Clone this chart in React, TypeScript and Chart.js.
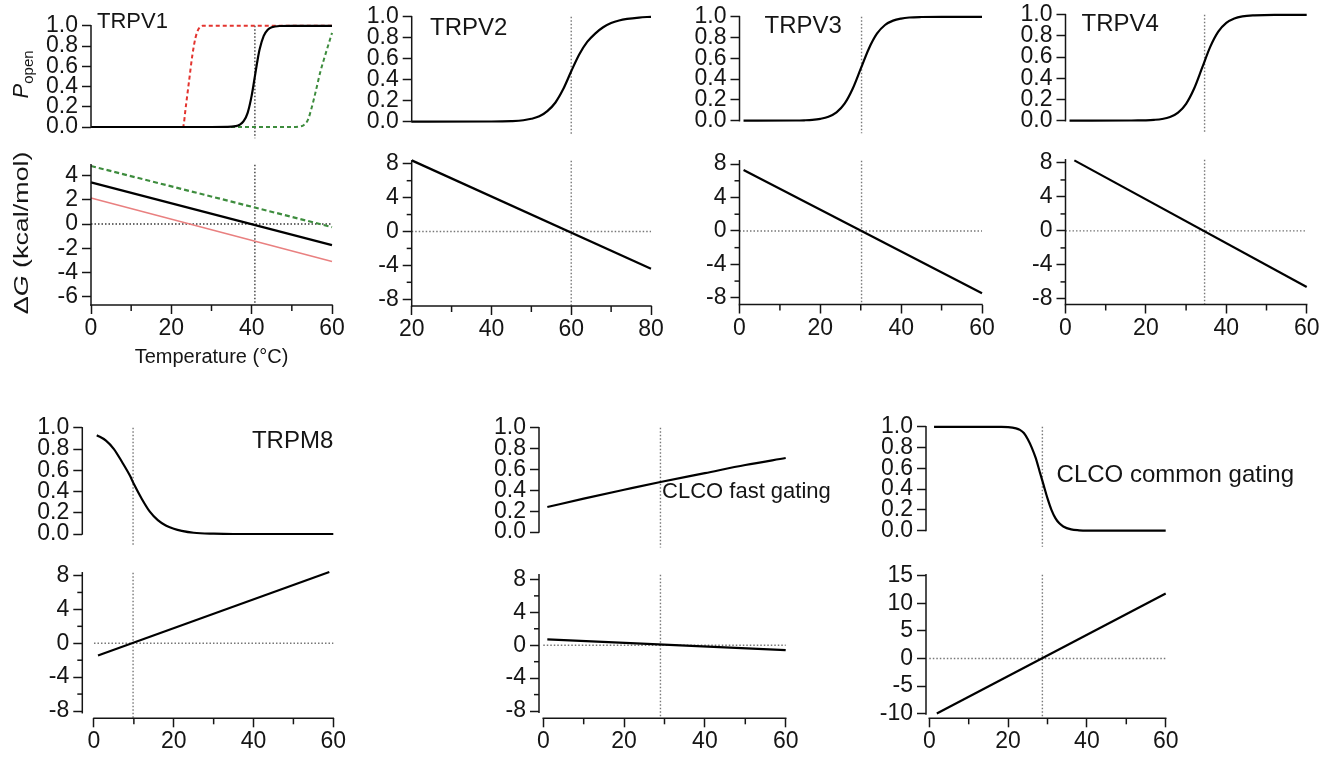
import React, { useEffect, useRef } from 'react';
import { Chart, registerables } from 'chart.js';

Chart.register(...registerables);

const FONT = '"Liberation Sans", Arial, Helvetica, sans-serif';
const INK = '#151515';
const RED = '#e3342f';
const PINK = '#e98080';
const GREEN = '#3d8c3d';

// ---------------- data ----------------
const PANEL_NAMES = ['TRPV1', 'TRPV2', 'TRPV3', 'TRPV4', 'TRPM8', 'CLCO fast gating', 'CLCO common gating'];
const PANEL_TM = [40.8, 60, 30.2, 34.6, 9.8, 29, 28.7];

const P_TICKS = [0, 0.2, 0.4, 0.6, 0.8, 1.0];
const T_TICKS_0_60 = [0, 20, 40, 60];
const T_MINOR_0_60 = [10, 30, 50];
const T_TICKS_20_80 = [20, 40, 60, 80];
const T_MINOR_20_80 = [30, 50, 70];
const DG_TICKS_TRPV1 = [-6, -4, -2, 0, 2, 4];
const DG_TICKS_8 = [-8, -4, 0, 4, 8];
const DG_MINOR_8 = [-6, -2, 2, 6];
const DG_TICKS_CLCO = [-10, -5, 0, 5, 10, 15];

// TRPV1
const TRPV1_T_BLACK = [0, 30, 35, 36, 37, 38, 39, 40, 40.8, 41.5, 42, 43, 44, 45, 47, 50, 60];
const TRPV1_P_BLACK = [0, 0, 0.003, 0.008, 0.022, 0.057, 0.14, 0.31, 0.5, 0.67, 0.77, 0.9, 0.96, 0.985, 0.998, 1, 1];
const TRPV1_T_RED = [0, 22.9, 23.6, 24.4, 25.2, 26.0, 26.8, 27.8, 30, 60];
const TRPV1_P_RED = [0, 0, 0.2, 0.45, 0.7, 0.88, 0.97, 1.0, 1, 1];
const TRPV1_T_GREEN = [0, 51, 52, 53, 54, 55, 56, 57, 58, 59, 60];
const TRPV1_P_GREEN = [0, 0, 0.005, 0.02, 0.07, 0.2, 0.36, 0.53, 0.67, 0.8, 0.93];
const TRPV1_DG_T = [0, 60];
const TRPV1_DG_BLACK = [3.45, -1.74];
const TRPV1_DG_RED = [2.15, -3.1];
const TRPV1_DG_GREEN = [4.8, -0.25];

// TRPV2
const TRPV2_T = [20, 40, 45, 48, 50, 52, 54, 56, 58, 60, 62, 64, 66, 68, 70, 72, 74, 77, 80];
const TRPV2_P = [0, 0.001, 0.005, 0.013, 0.027, 0.05, 0.1, 0.18, 0.31, 0.48, 0.64, 0.76, 0.84, 0.9, 0.94, 0.965, 0.98, 0.993, 1];
const TRPV2_DG_T = [20, 80];
const TRPV2_DG = [8.4, -4.4];

// TRPV3
const TRPV3_T = [1, 14, 16, 18, 20, 22, 24, 26, 28, 30, 32, 34, 36, 38, 40, 42, 45, 50, 60];
const TRPV3_P = [0, 0.001, 0.003, 0.007, 0.017, 0.037, 0.079, 0.163, 0.307, 0.5, 0.693, 0.837, 0.921, 0.963, 0.983, 0.993, 0.998, 1, 1];
const TRPV3_DG_T = [1, 60];
const TRPV3_DG = [7.3, -7.45];

// TRPV4
const TRPV4_T = [1, 16, 18, 20, 22, 24, 26, 28, 30, 32, 34, 36, 38, 40, 42, 44, 47, 52, 60];
const TRPV4_P = [0, 0.001, 0.0013, 0.003, 0.007, 0.015, 0.034, 0.076, 0.159, 0.303, 0.5, 0.697, 0.841, 0.924, 0.966, 0.985, 0.995, 1, 1];
const TRPV4_DG_T = [2.2, 60];
const TRPV4_DG = [8.3, -6.6];

// TRPM8
const TRPM8_T = [0.7, 3, 5, 7, 9, 10, 12, 14, 16, 18, 20, 22, 25, 30, 35, 60];
const TRPM8_P = [0.93, 0.88, 0.8, 0.68, 0.55, 0.47, 0.33, 0.21, 0.13, 0.08, 0.05, 0.03, 0.012, 0.003, 0, 0];
const TRPM8_DG_T = [1, 59];
const TRPM8_DG = [-1.44, 8.42];

// CLCO fast gating
const CLCOF_T = [1, 10, 20, 29, 40, 50, 60];
const CLCOF_P = [0.24, 0.32, 0.405, 0.48, 0.565, 0.643, 0.71];
const CLCOF_DG_T = [1, 60];
const CLCOF_DG = [0.72, -0.6];

// CLCO common gating
const CLCOC_T = [1.2, 10, 18, 20, 22, 23, 24, 25, 26, 27, 28, 29, 30, 31, 32, 33, 34, 36, 38, 40, 60];
const CLCOC_P = [1, 1, 0.999, 0.997, 0.985, 0.97, 0.94, 0.88, 0.8, 0.7, 0.57, 0.44, 0.31, 0.2, 0.12, 0.07, 0.04, 0.012, 0.003, 0, 0];
const CLCOC_DG_T = [1.9, 60];
const CLCOC_DG = [-10, 11.8];

// ---------------- layout (pixel geometry of each panel) ----------------
const GEO: any[] = [
  { L: 91, R: 332, topT: 24, topB: 149, botT: 163, botB: 305, xMin: 0, xMax: 60, yMin: -6.69, yMax: 4.9 },
  { L: 411.7, R: 651, topT: 15, topB: 144.3, botT: 159.5, botB: 306, xMin: 20, xMax: 80, yMin: -8.8, yMax: 8.35 },
  { L: 739.5, R: 982, topT: 15, topB: 143.3, botT: 159, botB: 304.5, xMin: 0, xMax: 60, yMin: -8.8, yMax: 8.39 },
  { L: 1065.5, R: 1306.7, topT: 13.3, topB: 143.3, botT: 158, botB: 304.5, xMin: 0, xMax: 60, yMin: -8.66, yMax: 8.37 },
  { L: 82.3, R: 333.3, topT: 426, topB: 556, botT: 571.7, botB: 718.3, xMin: -2.93, xMax: 60, yMin: -8.86, yMax: 8.32, yAxisEnd: -8.2, xAxisFrom: 0 },
  { L: 539, R: 785.7, topT: 426, topB: 554, botT: 573, botB: 718.3, xMin: -1.06, xMax: 60, yMin: -8.88, yMax: 8.56, yAxisEnd: -8.15, xAxisFrom: 0 },
  { L: 926, R: 1165.7, topT: 425.7, topB: 553.3, botT: 573, botB: 718.3, xMin: -0.84, xMax: 60, yMin: -10.86, yMax: 15.18, yAxisEnd: -10.1, xAxisFrom: 0 },
];
const LABEL_POS: any[] = [
  { x: 1.5, y: 1.036, align: 'left', size: 22 },
  { x: 24.6, y: 0.892, align: 'left', size: 24 },
  { x: 6.2, y: 0.903, align: 'left', size: 24 },
  { x: 4.0, y: 0.91, align: 'left', size: 24 },
  { x: 60, y: 0.87, align: 'right', size: 24 },
  { x: 29.4, y: 0.383, align: 'left', size: 22 },
  { x: 32.3, y: 0.535, align: 'left', size: 24 },
];

// ---------------- helpers ----------------
const pts = (xs: number[], ys: number[]) => xs.map((x, i) => ({ x, y: ys[i] }));

const curve = (xs: number[], ys: number[], color = '#000', width = 2.2, dash: number[] = []) => ({
  data: pts(xs, ys), showLine: true, borderColor: color, borderWidth: width, borderDash: dash,
  pointRadius: 0, cubicInterpolationMode: 'monotone', fill: false, clip: false,
});
const straight = (xs: number[], ys: number[], color = '#000', width = 2.2, dash: number[] = []) => ({
  data: pts(xs, ys), showLine: true, borderColor: color, borderWidth: width, borderDash: dash,
  pointRadius: 0, tension: 0, fill: false, clip: false,
});
const guide = (xs: number[], ys: number[], color: string) => ({
  data: pts(xs, ys), showLine: true, borderColor: color, borderWidth: 1.4, borderDash: [1.5, 2],
  pointRadius: 0, tension: 0, fill: false, clip: false,
});

function drawRotated(ctx: any, parts: any[], cx: number, cy: number, stretch: number) {
  ctx.save();
  ctx.translate(cx, cy);
  ctx.rotate(-Math.PI / 2);
  ctx.scale(stretch, 1);
  ctx.textBaseline = 'alphabetic';
  ctx.textAlign = 'left';
  let total = 0;
  const widths = parts.map((p) => { ctx.font = p.font; const w = ctx.measureText(p.text).width; total += w; return w; });
  let x = -total / 2;
  parts.forEach((p, i) => { ctx.font = p.font; ctx.fillText(p.text, x, p.dy); x += widths[i]; });
  ctx.restore();
}

const decorPlugin = {
  id: 'decor',
  afterDraw(chart: any, _args: any, o: any) {
    const { ctx, chartArea: a } = chart;
    const xs = chart.scales.x, ys = chart.scales.y;
    ctx.save();
    ctx.strokeStyle = INK; ctx.fillStyle = INK; ctx.lineWidth = 1.5; ctx.lineCap = 'butt';
    const yTop = ys.getPixelForValue(ys.max);
    const yBot = ys.getPixelForValue(o.yAxisEnd != null ? o.yAxisEnd : ys.min);
    ctx.beginPath(); ctx.moveTo(a.left, yTop - 0.75); ctx.lineTo(a.left, yBot + 0.75); ctx.stroke();
    (o.minorY || []).forEach((v: number) => {
      const p = ys.getPixelForValue(v);
      ctx.beginPath(); ctx.moveTo(a.left - 5, p); ctx.lineTo(a.left, p); ctx.stroke();
    });
    if (o.xAxis) {
      const x0 = xs.getPixelForValue(o.xAxisFrom != null ? o.xAxisFrom : xs.min);
      const x1 = xs.getPixelForValue(xs.max);
      ctx.beginPath(); ctx.moveTo(x0 - 0.75, a.bottom); ctx.lineTo(x1 + 0.75, a.bottom); ctx.stroke();
      (o.minorX || []).forEach((v: number) => {
        const p = xs.getPixelForValue(v);
        ctx.beginPath(); ctx.moveTo(p, a.bottom); ctx.lineTo(p, a.bottom + 6); ctx.stroke();
      });
    }
    (o.labels || []).forEach((l: any) => {
      ctx.font = `${l.size}px ${FONT}`;
      ctx.textAlign = l.align;
      ctx.textBaseline = 'middle';
      ctx.fillText(l.text, xs.getPixelForValue(l.x), ys.getPixelForValue(l.y));
    });
    if (o.yTitle === 'popen') {
      drawRotated(ctx, [
        { text: 'P', font: `italic 22px ${FONT}`, dy: 8 },
        { text: 'open', font: `15px ${FONT}`, dy: 13 },
      ], a.left - 71, (a.top + a.bottom) / 2 - 2, 1);
    }
    if (o.yTitle === 'dg') {
      drawRotated(ctx, [
        { text: '\u0394', font: `21px ${FONT}`, dy: 7.5 },
        { text: 'G', font: `italic 21px ${FONT}`, dy: 7.5 },
        { text: ' (kcal/mol)', font: `21px ${FONT}`, dy: 7.5 },
      ], a.left - 71, (a.top + a.bottom) / 2 - 2, 1.28);
    }
    ctx.restore();
  },
};

const YW = 90, PT = 16, PR_TOP = 150, PR = 22, PB = 22, XH = 40, XH_TITLE = 64;

function SubChart({ s }: { s: any }) {
  const ref = useRef<HTMLCanvasElement>(null);
  const cl = Math.floor(s.area.L - YW);
  const ct = Math.floor(s.area.T - PT);
  const extra = s.x.show ? (s.x.title ? XH_TITLE : XH) : PB;
  const cw = Math.ceil(s.area.R + (s.x.show ? PR : PR_TOP) - cl);
  const ch = Math.ceil(s.area.B + extra - ct);
  const yw = s.area.L - cl;
  const pt = s.area.T - ct;
  const pr = cw - (s.area.R - cl);
  const be = ch - (s.area.B - ct);

  useEffect(() => {
    const tickFont = { family: FONT, size: 23 };
    const chart = new Chart(ref.current as any, {
      type: 'scatter',
      data: { datasets: s.datasets },
      options: {
        responsive: false,
        animation: false,
        devicePixelRatio: 1,
        events: [],
        layout: { padding: { left: 0, top: pt, right: pr, bottom: s.x.show ? 0 : be } },
        scales: {
          x: {
            type: 'linear', min: s.x.min, max: s.x.max, display: s.x.show,
            afterFit: (sc: any) => { sc.height = be; },
            afterBuildTicks: (sc: any) => { sc.ticks = s.x.ticks.map((v: number) => ({ value: v })); },
            ticks: { font: tickFont, color: INK, padding: 1, autoSkip: false, maxRotation: 0, minRotation: 0, callback: (v: any) => String(v) },
            grid: { display: true, drawOnChartArea: false, drawTicks: true, tickLength: 9, tickWidth: 1.5, tickColor: INK },
            border: { display: false },
            title: s.x.title ? { display: true, text: s.x.title, color: INK, font: { family: FONT, size: 20 }, padding: { top: 0, bottom: 0 } } : { display: false },
          },
          y: {
            type: 'linear', min: s.y.min, max: s.y.max,
            afterFit: (sc: any) => { sc.width = yw; },
            afterBuildTicks: (sc: any) => { sc.ticks = s.y.ticks.map((v: number) => ({ value: v })); },
            ticks: { font: tickFont, color: INK, padding: 4, autoSkip: false, callback: s.y.fmt },
            grid: { display: true, drawOnChartArea: false, drawTicks: true, tickLength: 9, tickWidth: 1.5, tickColor: INK },
            border: { display: false },
          },
        },
        plugins: {
          legend: { display: false },
          tooltip: { enabled: false },
          decor: s.decor,
        },
      } as any,
      plugins: [decorPlugin as any],
    });
    return () => chart.destroy();
  }, []);

  return (
    <canvas
      ref={ref}
      width={cw}
      height={ch}
      style={{ position: 'absolute', left: cl, top: ct, width: cw, height: ch }}
    />
  );
}

function buildSubs() {
  const topCurves = [
    [curve(TRPV1_T_BLACK, TRPV1_P_BLACK), curve(TRPV1_T_RED, TRPV1_P_RED, RED, 2, [4, 3]), curve(TRPV1_T_GREEN, TRPV1_P_GREEN, GREEN, 2, [4, 3])],
    [curve(TRPV2_T, TRPV2_P)],
    [curve(TRPV3_T, TRPV3_P)],
    [curve(TRPV4_T, TRPV4_P)],
    [curve(TRPM8_T, TRPM8_P)],
    [curve(CLCOF_T, CLCOF_P)],
    [curve(CLCOC_T, CLCOC_P)],
  ];
  const botLines = [
    [straight(TRPV1_DG_T, TRPV1_DG_BLACK), straight(TRPV1_DG_T, TRPV1_DG_RED, PINK, 1.5), straight(TRPV1_DG_T, TRPV1_DG_GREEN, GREEN, 2.2, [5, 3])],
    [straight(TRPV2_DG_T, TRPV2_DG)],
    [straight(TRPV3_DG_T, TRPV3_DG)],
    [straight(TRPV4_DG_T, TRPV4_DG)],
    [straight(TRPM8_DG_T, TRPM8_DG)],
    [straight(CLCOF_DG_T, CLCOF_DG)],
    [straight(CLCOC_DG_T, CLCOC_DG)],
  ];
  const subs: any[] = [];
  GEO.forEach((g, i) => {
    const tm = PANEL_TM[i];
    const guideColor = i === 0 ? '#3a3a3a' : '#777';
    const xTicks = i === 1 ? T_TICKS_20_80 : T_TICKS_0_60;
    const xMinor = i === 1 ? T_MINOR_20_80 : T_MINOR_0_60;
    const yTicks = i === 0 ? DG_TICKS_TRPV1 : i === 6 ? DG_TICKS_CLCO : DG_TICKS_8;
    const yMinor = i === 0 || i === 6 ? [] : DG_MINOR_8;
    const gapData = (g.botT - g.topB) / (g.topB - g.topT);
    const xFrom = g.xAxisFrom != null ? g.xAxisFrom : g.xMin;
    subs.push({
      key: `top${i}`,
      area: { L: g.L, R: g.R, T: g.topT, B: g.topB },
      x: { min: g.xMin, max: g.xMax, ticks: xTicks, show: false },
      y: { min: 0, max: 1, ticks: P_TICKS, fmt: (v: number) => Number(v).toFixed(1) },
      datasets: [...topCurves[i], guide([tm, tm], [1, -gapData], guideColor)],
      decor: {
        labels: [{ text: PANEL_NAMES[i], ...LABEL_POS[i] }],
        yTitle: i === 0 ? 'popen' : null,
      },
    });
    subs.push({
      key: `bot${i}`,
      area: { L: g.L, R: g.R, T: g.botT, B: g.botB },
      x: { min: g.xMin, max: g.xMax, ticks: xTicks, show: true, title: i === 0 ? 'Temperature (\u00B0C)' : null },
      y: { min: g.yMin, max: g.yMax, ticks: yTicks, fmt: (v: number) => String(v) },
      datasets: [...botLines[i], guide([tm, tm], [g.yMax, g.yMin], guideColor), guide([xFrom, g.xMax], [0, 0], guideColor)],
      decor: {
        xAxis: true, xAxisFrom: g.xAxisFrom, yAxisEnd: g.yAxisEnd,
        minorX: xMinor, minorY: yMinor,
        yTitle: i === 0 ? 'dg' : null,
      },
    });
  });
  return subs;
}

export default function App() {
  const subs = buildSubs();
  return (
    <div style={{ position: 'absolute', left: 0, top: 0, width: 1336, height: 762, background: '#fff', overflow: 'hidden' }}>
      {subs.map((s) => <SubChart key={s.key} s={s} />)}
    </div>
  );
}
